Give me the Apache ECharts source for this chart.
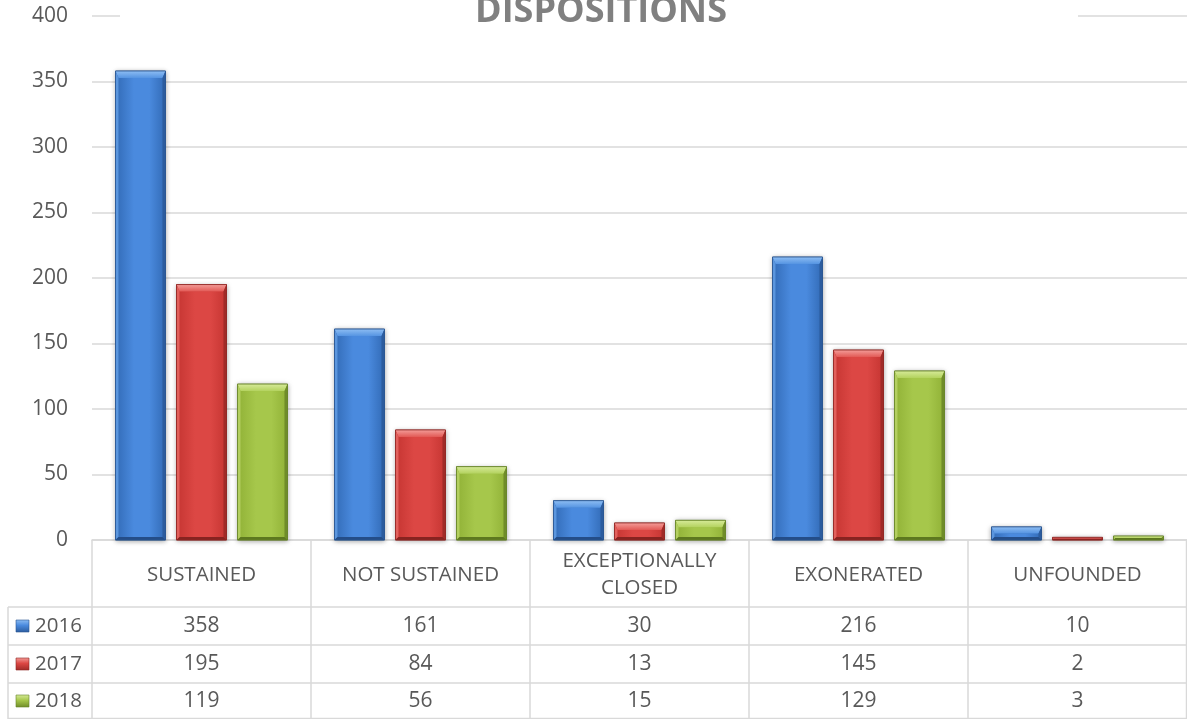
<!DOCTYPE html>
<html>
<head>
<meta charset="utf-8">
<script src="https://cdn.jsdelivr.net/npm/echarts@6/dist/echarts.min.js"></script>
<style>html,body{margin:0;padding:0;background:#fff;}#c{width:1187px;height:719px;}</style>
</head>
<body>
<div id="c"></div>
<script>
const titleText = 'DISPOSITIONS';
const categories = ['SUSTAINED', 'NOT SUSTAINED', 'EXCEPTIONALLY\nCLOSED', 'EXONERATED', 'UNFOUNDED'];
const seriesNames = ['2016', '2017', '2018'];
const values2016 = [358, 161, 30, 216, 10];
const values2017 = [195, 84, 13, 145, 2];
const values2018 = [119, 56, 15, 129, 3];
const yTicks = [0, 50, 100, 150, 200, 250, 300, 350, 400];

const allValues = [values2016, values2017, values2018];
const palettes = [
  {edge:'#3670bd', mid:'#4a8ade', top1:'#8dbdf3', top2:'#5594e2', left:'#5b96de', right:'#2c5c9e', bottom:'#244d88', line:'#2a5590'},
  {edge:'#c93835', mid:'#dc4744', top1:'#f39c98', top2:'#e25955', left:'#e2605c', right:'#a02b28', bottom:'#872320', line:'#8f2724'},
  {edge:'#94b53a', mid:'#a6c74b', top1:'#d6ea98', top2:'#b3d25e', left:'#b3cf60', right:'#6f8c29', bottom:'#5d781f', line:'#67842a'}
];

const GRID_LEFT = 92, GRID_TOP = 16, GRID_BOTTOM = 179;
const chart = echarts.init(document.getElementById('c'));

function makeRender(idx) {
  const p = palettes[idx];
  return function (params, api) {
    const ci = api.value(0), v = api.value(1);
    const base = api.coord([ci, 0]);
    const top = api.coord([ci, v]);
    const band = api.size([1, 0])[0];
    const bw = band * 50 / 219, gap = band * 11 / 219;
    const cx = base[0] + (idx - 1) * (bw + gap);
    const x0 = cx - bw / 2, x1 = cx + bw / 2;
    const y0 = top[1], y1 = base[1];
    const h = y1 - y0;
    const b = Math.min(7, h / 2);
    const bs = Math.min(3, h / 2);
    return {
      type: 'group',
      children: [
        {type:'rect', shape:{x:x0, y:y0, width:bw, height:h},
         style:{fill:p.edge, stroke:p.line, lineWidth:0.8, shadowBlur:5, shadowColor:'rgba(0,0,0,0.35)', shadowOffsetY:1}},
        {type:'rect', shape:{x:x0+bs, y:y0+b, width:bw-2*bs, height:Math.max(0,h-b-bs)},
         style:{fill:new echarts.graphic.LinearGradient(0,0,1,0,[{offset:0,color:p.edge},{offset:0.35,color:p.mid},{offset:0.7,color:p.mid},{offset:1,color:p.edge}])}},
        {type:'polygon', shape:{points:[[x0,y0],[x1,y0],[x1-bs,y0+b],[x0+bs,y0+b]]},
         style:{fill:new echarts.graphic.LinearGradient(0,0,0,1,[{offset:0,color:p.top1},{offset:1,color:p.top2}])}},
        {type:'polygon', shape:{points:[[x0,y0],[x0+bs,y0+b],[x0+bs,y1-bs],[x0,y1]]}, style:{fill:p.left}},
        {type:'polygon', shape:{points:[[x1,y0],[x1-bs,y0+b],[x1-bs,y1-bs],[x1,y1]]}, style:{fill:p.right}},
        {type:'polygon', shape:{points:[[x0,y1],[x0+bs,y1-bs],[x1-bs,y1-bs],[x1,y1]]}, style:{fill:p.bottom}},
        {type:'rect', shape:{x:x0, y:y0, width:bw, height:h}, style:{fill:'none', stroke:p.line, lineWidth:0.8}}
      ]
    };
  };
}

const series = seriesNames.map((name, i) => ({
  type: 'custom',
  name: name,
  renderItem: makeRender(i),
  encode: {x: 0, y: 1},
  data: allValues[i].map((v, j) => [j, v])
}));

chart.setOption({
  animation: false,
  grid: {left: GRID_LEFT, right: 0, top: GRID_TOP, bottom: GRID_BOTTOM, containLabel: false},
  xAxis: {
    type: 'category',
    data: categories,
    axisLine: {show: true, lineStyle: {color: '#d9d9d9', width: 1.5}},
    axisTick: {show: true, length: 179, alignWithLabel: false, lineStyle: {color: '#d9d9d9', width: 1.5}},
    axisLabel: {interval: 0, margin: 35, verticalAlign: 'middle', color: '#595959', fontFamily: 'Open Sans', fontSize: 20.5, lineHeight: 27, align: 'center'},
    splitLine: {show: false}
  },
  yAxis: {
    type: 'value',
    min: yTicks[0], max: yTicks[yTicks.length - 1], interval: 50,
    axisLine: {show: false}, axisTick: {show: false},
    axisLabel: {margin: 24, color: '#595959', fontFamily: 'Open Sans', fontSize: 21},
    splitLine: {lineStyle: {color: '#d9d9d9', width: 1.5}}
  },
  series: series
});

// data table below the plot
const W = 1187;
const rowLines = [607, 645, 683, 718.5];
const rowCenters = [626, 664, 701];
const graphics = [];
graphics.push({type:'rect', z:50, shape:{x:120, y:8, width:958, height:14}, style:{fill:'#fff'}});
graphics.push({type:'text', z:51, x:601, y:12, style:{text:titleText, fill:'#808080', font:'bold 36px "Open Sans"', align:'center', verticalAlign:'middle'}});
rowLines.forEach(y => graphics.push({type:'line', z:20, shape:{x1:8, y1:y, x2:W, y2:y}, style:{stroke:'#d9d9d9', lineWidth:1.5}}));
graphics.push({type:'line', z:20, shape:{x1:8, y1:607, x2:8, y2:719}, style:{stroke:'#d9d9d9', lineWidth:1.5}});
graphics.push({type:'line', z:20, shape:{x1:W-0.5, y1:540, x2:W-0.5, y2:719}, style:{stroke:'#d9d9d9', lineWidth:1.5}});
seriesNames.forEach((name, i) => {
  const p = palettes[i];
  const yc = rowCenters[i];
  graphics.push({type:'rect', z:21, shape:{x:16, y:yc-6, width:13, height:12},
    style:{fill:new echarts.graphic.LinearGradient(0,0,0,1,[{offset:0,color:p.top1},{offset:0.45,color:p.mid},{offset:1,color:p.right}]), stroke:p.line, lineWidth:0.6}});
  graphics.push({type:'text', z:21, x:35, y:yc, style:{text:name, fill:'#595959', font:'20.5px "Open Sans"', align:'left', verticalAlign:'middle'}});
  allValues[i].forEach((v, j) => {
    const px = chart.convertToPixel({xAxisIndex: 0}, j);
    graphics.push({type:'text', z:21, x:px, y:yc, style:{text:String(v), fill:'#595959', font:'21px "Open Sans"', align:'center', verticalAlign:'middle'}});
  });
});
chart.setOption({graphic: graphics});
</script>
</body>
</html>
